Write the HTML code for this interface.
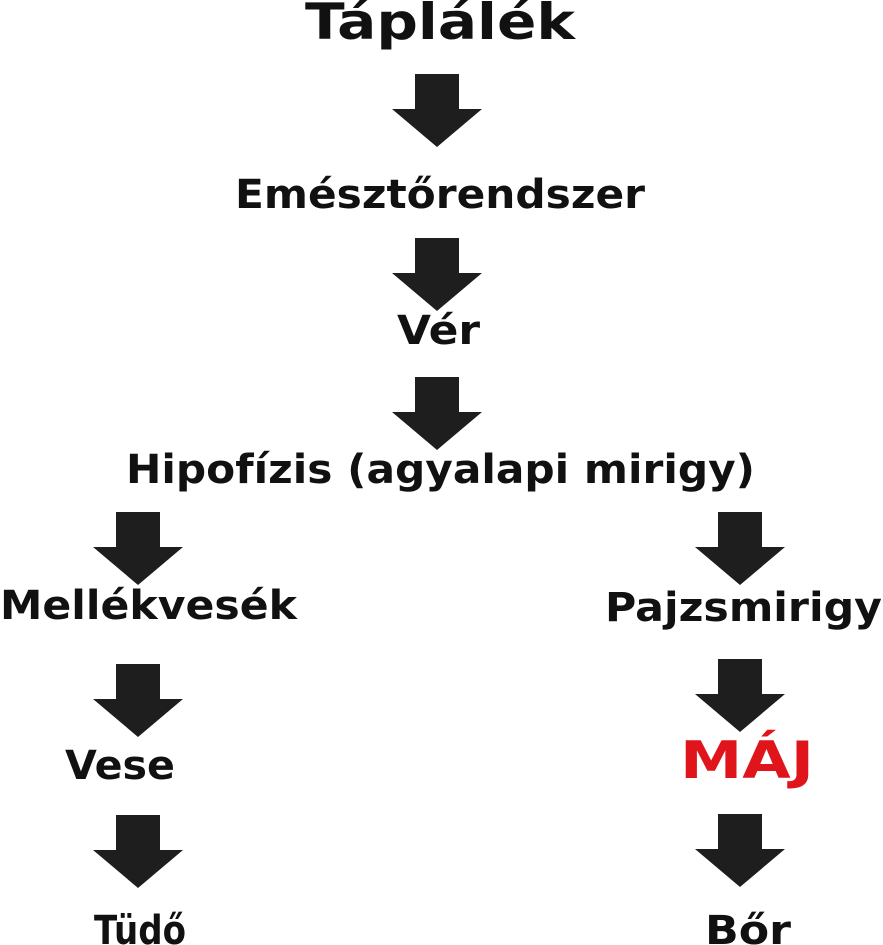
<!DOCTYPE html>
<html><head><meta charset="utf-8"><style>
html,body{margin:0;padding:0;background:#fff;}
svg{display:block;}
text{font-family:"DejaVu Sans","Liberation Sans",sans-serif;font-weight:bold;fill:#111;}
</style></head><body>
<svg width="883" height="945" viewBox="0 0 883 945" xmlns="http://www.w3.org/2000/svg">
<defs>
<path id="ar" d="M-22,0 H22 V35 H45 L0,73 L-45,35 H-22 Z" fill="#1e1e1e"/>
</defs>
<use href="#ar" x="437" y="74"/>
<use href="#ar" x="437" y="238"/>
<use href="#ar" x="437" y="377"/>
<use href="#ar" x="138" y="512"/>
<use href="#ar" x="138" y="664"/>
<use href="#ar" x="138" y="815"/>
<use href="#ar" x="740" y="512"/>
<use href="#ar" x="740" y="659"/>
<use href="#ar" x="740" y="814"/>

<text x="305" y="39" font-size="50" textLength="270" lengthAdjust="spacingAndGlyphs">Táplálék</text>
<text x="235" y="208" font-size="40" textLength="410" lengthAdjust="spacingAndGlyphs">Emésztőrendszer</text>
<text x="397" y="344" font-size="40" textLength="83" lengthAdjust="spacingAndGlyphs">Vér</text>
<text x="126" y="483" font-size="40" textLength="629" lengthAdjust="spacingAndGlyphs">Hipofízis (agyalapi mirigy)</text>
<text x="0" y="619" font-size="40" textLength="297" lengthAdjust="spacingAndGlyphs">Mellékvesék</text>
<text x="605" y="621" font-size="40" textLength="277" lengthAdjust="spacingAndGlyphs">Pajzsmirigy</text>
<text x="65" y="779" font-size="40" textLength="110" lengthAdjust="spacingAndGlyphs">Vese</text>
<text x="680" y="778" font-size="52" textLength="134" lengthAdjust="spacingAndGlyphs" style="fill:#e0141b">MÁJ</text>
<text x="94" y="944" font-size="40" textLength="92" lengthAdjust="spacingAndGlyphs">Tüdő</text>
<text x="705" y="944" font-size="40" textLength="86" lengthAdjust="spacingAndGlyphs">Bőr</text>
</svg>
</body></html>
